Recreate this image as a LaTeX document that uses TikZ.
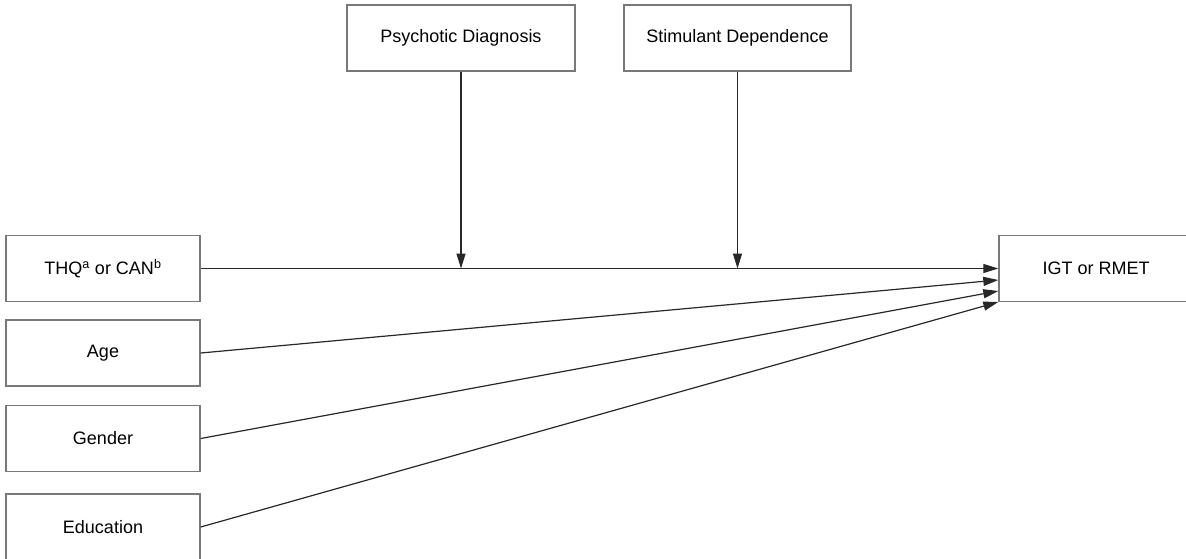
\documentclass[tikz,border=0pt]{standalone}
\usepackage{fontspec}
\setmainfont{Liberation Sans}
\usetikzlibrary{arrows.meta}
\definecolor{boxgray}{RGB}{120,120,120}
\definecolor{linegray}{RGB}{40,40,40}
\begin{document}
\begin{tikzpicture}[x=1pt,y=-1pt,
  vbox/.style={draw=boxgray,line width=1.4pt,fill=white,inner sep=0pt,
    minimum height=66pt,font=\fontsize{18}{21}\selectfont},
  lbox/.style={vbox,minimum width=194pt},
  conn/.style={draw=linegray,line width=1.2pt,-{Triangle[length=15pt,width=9pt]}}]
\useasboundingbox (0,0) rectangle (1186,558);
\clip (0,0) rectangle (1186,558);
\fill[white] (0,0) rectangle (1186,558);
\node[lbox] (thq) at (103,268.5) {THQ\textsuperscript{a} or CAN\textsuperscript{b}};
\node[lbox] (age) at (103,353) {Age};
\node[lbox] (gen) at (103,438.5) {Gender};
\node[lbox] (edu) at (103,527) {Education};
\node[vbox,minimum width=228pt] (psy) at (461,38) {Psychotic Diagnosis};
\node[vbox,minimum width=227pt] (sti) at (737.5,38) {Stimulant Dependence};
\node[lbox] (igt) at (1096,268.5) {IGT or RMET};
\coordinate (j1) at (psy.south |- thq.east);
\coordinate (j2) at (sti.south |- thq.east);
\draw[conn] (thq.east) -- (igt.west);
\draw[conn] (psy.south) -- (j1);
\draw[conn] (sti.south) -- (j2);
\draw[conn] (age.east) -- ([yshift=-11.5pt]igt.west);
\draw[conn] (gen.east) -- ([yshift=-22.5pt]igt.west);
\draw[conn] (edu.east) -- ([yshift=-33.5pt]igt.west);
\end{tikzpicture}
\end{document}
